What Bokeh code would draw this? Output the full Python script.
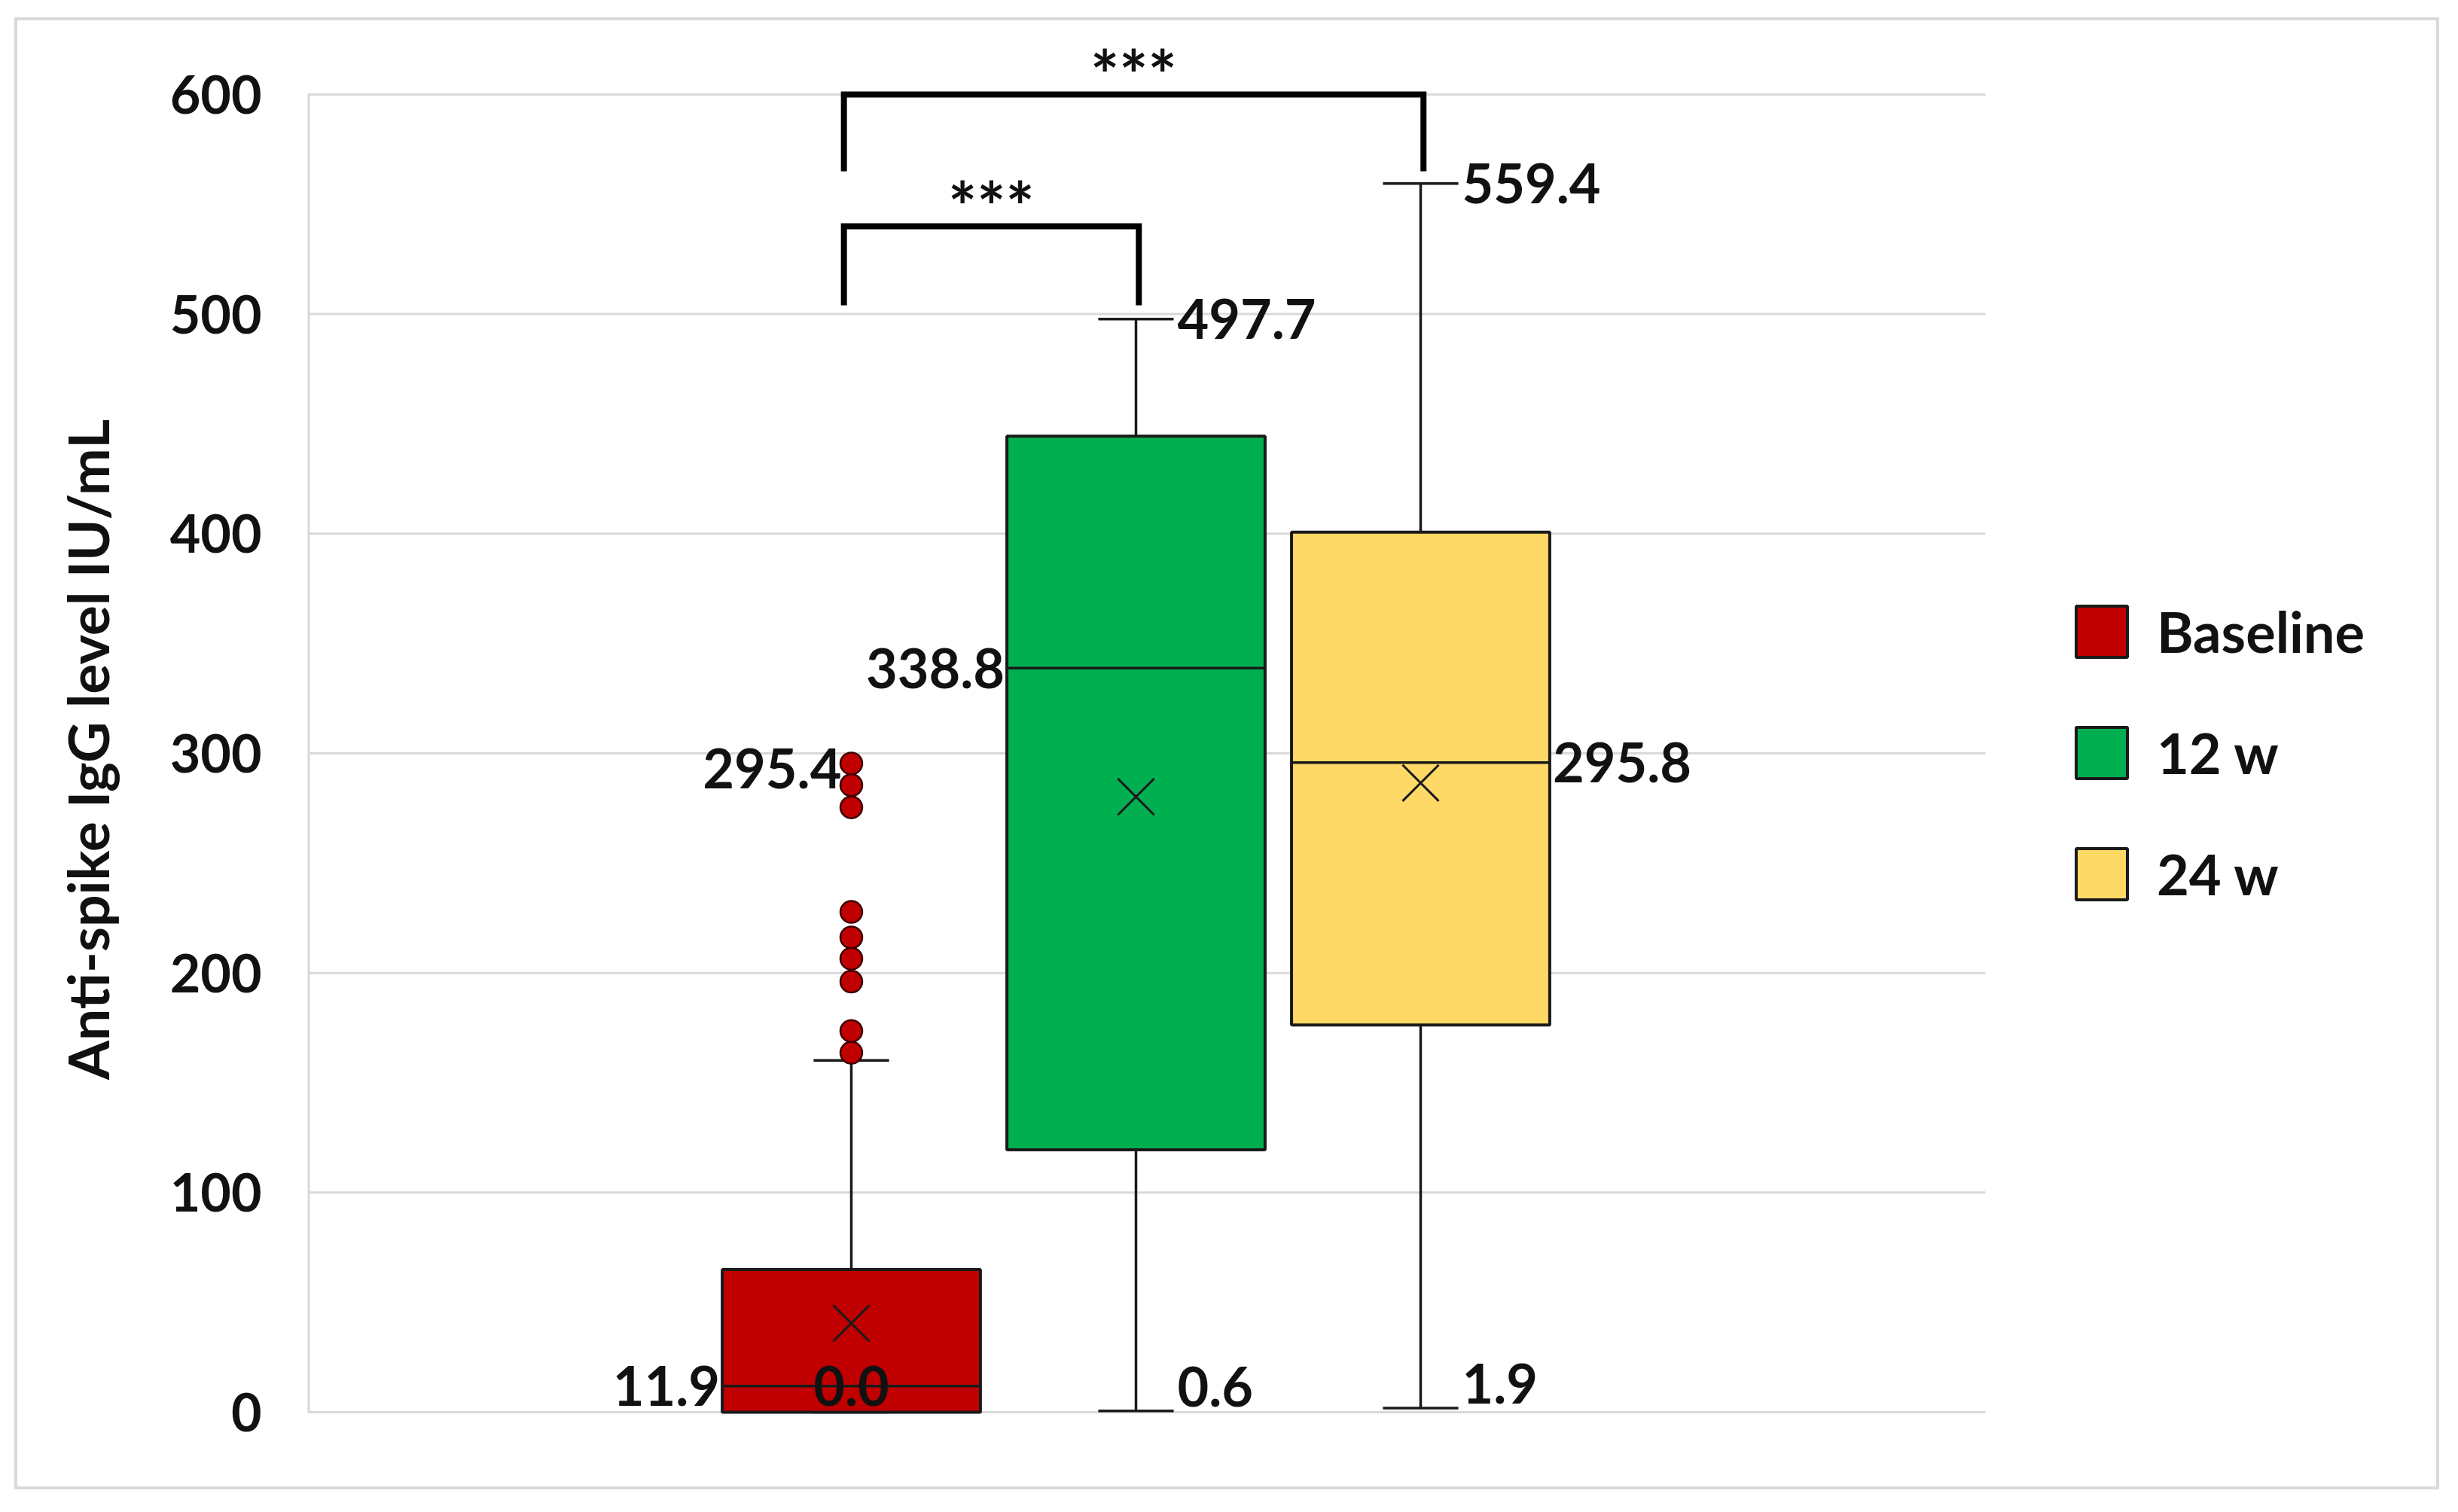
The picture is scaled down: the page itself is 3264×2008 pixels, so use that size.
from bokeh.plotting import figure
from bokeh.models import Range1d, FixedTicker, Legend, LegendItem, ColumnDataSource
from bokeh.core.properties import value
from bokeh.embed import file_html
from bokeh.resources import INLINE

# ---------------- data ----------------
groups = ["Baseline", "12 w", "24 w"]
colors = ["#C00000", "#00B050", "#FFD966"]
q1 = [0.0, 119.5, 176.3]
median = [11.9, 338.8, 295.8]
q3 = [65.0, 444.4, 400.7]
whisker_low = [0.0, 0.6, 1.9]
whisker_high = [160.2, 497.7, 559.4]
mean = [40.5, 280.2, 286.5]
baseline_outliers = [295.4, 285.5, 275.4, 227.8, 216.2, 206.5, 196.1, 173.6, 163.7]
y_ticks = [0, 100, 200, 300, 400, 500, 600]
y_label = "Anti-spike IgG level IU/mL"
comparisons = [("Baseline", "24 w", "***"), ("Baseline", "12 w", "***")]
bracket_top = [600, 540]
bracket_leg = [565, 504]

# ---------------- layout ----------------
FONT = "Lato"
INK = "#111111"
EDGE = "#1a1a1a"
GRID = "#d9d9d9"
BOX_W = 0.907
CAP_W = 0.265
UNIT_PX = 378                     # pixels per category step
X_START = -0.910
X_PLOT_END = 4.984                # right end of the plotting area (gridlines)
CANVAS_W, CANVAS_H = 3212, 1947
BORDER_L, BORDER_T, BORDER_B = 385, 25, 36
X_END = X_START + (CANVAS_W - BORDER_L) / UNIT_PX
Y_START, Y_END = -21.6, 625
PLOT_W = (X_PLOT_END - X_START) * UNIT_PX

xs = [i + 1 for i in range(len(groups))]
left = [x - BOX_W / 2 for x in xs]
right = [x + BOX_W / 2 for x in xs]

p = figure(width=CANVAS_W, height=CANVAS_H,
           x_range=Range1d(X_START, X_END), y_range=Range1d(Y_START, Y_END),
           output_backend="svg", toolbar_location=None,
           min_border_left=BORDER_L, min_border_right=0,
           min_border_top=BORDER_T, min_border_bottom=BORDER_B,
           styles={"position": "relative", "left": "23px", "top": "27px",
                   "outline": "4px solid #d9d9d9"})
p.outline_line_color = None
p.background_fill_color = "white"
p.border_fill_color = "white"
p.xaxis.visible = False
p.xgrid.visible = False
p.ygrid.visible = False

yax = p.yaxis[0]
yax.ticker = FixedTicker(ticks=y_ticks)
yax.axis_line_color = None
yax.major_tick_line_color = None
yax.minor_tick_line_color = None
yax.major_tick_in = 0
yax.major_tick_out = 0
yax.major_label_standoff = 61
yax.major_label_text_font = FONT
yax.major_label_text_font_style = "bold"
yax.major_label_text_font_size = "70px"
yax.major_label_text_color = INK
yax.axis_label = y_label
yax.axis_label_text_font = FONT
yax.axis_label_text_font_style = "bold"
yax.axis_label_text_font_size = "75px"
yax.axis_label_text_color = INK
yax.axis_label_standoff = 62

# horizontal gridlines limited to the plotting area, and left axis line
p.segment(x0=[X_START] * len(y_ticks), x1=[X_PLOT_END] * len(y_ticks), y0=y_ticks, y1=y_ticks,
          line_color=GRID, line_width=3)
p.segment(x0=[X_START], y0=[y_ticks[0]], x1=[X_START], y1=[y_ticks[-1]],
          line_color=GRID, line_width=6)

src = ColumnDataSource(dict(x=xs, q1=q1, q3=q3, med=median, lo=whisker_low,
                            hi=whisker_high, mean=mean, color=colors, group=groups,
                            left=left, right=right,
                            cl=[x - CAP_W / 2 for x in xs], cr=[x + CAP_W / 2 for x in xs]))

# whiskers
p.segment(x0="x", x1="x", y0="q3", y1="hi", source=src, line_color=EDGE, line_width=3.5)
p.segment(x0="x", x1="x", y0="lo", y1="q1", source=src, line_color=EDGE, line_width=3.5)
p.segment(x0="cl", x1="cr", y0="hi", y1="hi", source=src, line_color=EDGE, line_width=3.5)
p.segment(x0="cl", x1="cr", y0="lo", y1="lo", source=src, line_color=EDGE, line_width=3.5)

# boxes
boxes = p.vbar(x="x", width=BOX_W, bottom="q1", top="q3", source=src,
               fill_color="color", line_color=EDGE, line_width=4)
p.segment(x0="left", x1="right", y0="med", y1="med", source=src, line_color=EDGE, line_width=3.5)
p.scatter(x="x", y="mean", source=src, marker="x", size=68, line_color=EDGE, line_width=3)

# outliers
p.scatter(x=[xs[0]] * len(baseline_outliers), y=baseline_outliers, size=29,
          fill_color=colors[0], line_color="#3d0000", line_width=2.5)

TXT = dict(text_font=value(FONT), text_font_style="bold", text_font_size="72px",
           text_color=INK, text_baseline="middle")


def fmt(v):
    return f"{v:.1f}"


# max labels (12 w, 24 w)
p.text(x=xs[1:], y=whisker_high[1:], text=[fmt(v) for v in whisker_high[1:]],
       text_align="left", x_offset=55, y_offset=0, **TXT)
# min labels (12 w, 24 w)
p.text(x=xs[1:], y=whisker_low[1:], text=[fmt(v) for v in whisker_low[1:]],
       text_align="left", x_offset=55, y_offset=-32, **TXT)
# baseline min label
p.text(x=[xs[0]], y=[whisker_low[0]], text=[fmt(whisker_low[0])],
       text_align="center", y_offset=-35, **TXT)
# baseline max outlier label
p.text(x=[xs[0]], y=[max(baseline_outliers)], text=[fmt(max(baseline_outliers))],
       text_align="right", x_offset=-13, y_offset=7, **TXT)
# median labels
p.text(x=left[:2], y=median[:2], text=[fmt(v) for v in median[:2]],
       text_align="right", x_offset=-3, **TXT)
p.text(x=right[2:], y=median[2:], text=[fmt(v) for v in median[2:]],
       text_align="left", x_offset=4, **TXT)

# significance brackets
for (ga, gb, stars), top, leg in zip(comparisons, bracket_top, bracket_leg):
    xa = xs[groups.index(ga)] - 0.026
    xb = xs[groups.index(gb)] + 0.01
    p.multi_line(xs=[[xa, xa, xb, xb]], ys=[[leg, top, top, leg]],
                 line_color="black", line_width=8, line_join="miter")
    p.text(x=[(xa + xb) / 2], y=[top], text=[stars], text_align="center",
           text_baseline="alphabetic", y_offset=-27, text_font=value(FONT),
           text_font_style="bold", text_font_size="90px", text_color=INK)

legend = Legend(items=[LegendItem(label=g, renderers=[boxes], index=i) for i, g in enumerate(groups)],
                location=(PLOT_W + 112, 733), orientation="vertical",
                glyph_width=85, glyph_height=85, label_height=90, label_standoff=31,
                spacing=71, padding=0, margin=0,
                border_line_color=None, background_fill_alpha=0,
                label_text_font=FONT, label_text_font_size="74px",
                label_text_font_style="bold", label_text_color=INK)
p.add_layout(legend, "center")

open("out.html", "w").write(file_html(p, INLINE))
